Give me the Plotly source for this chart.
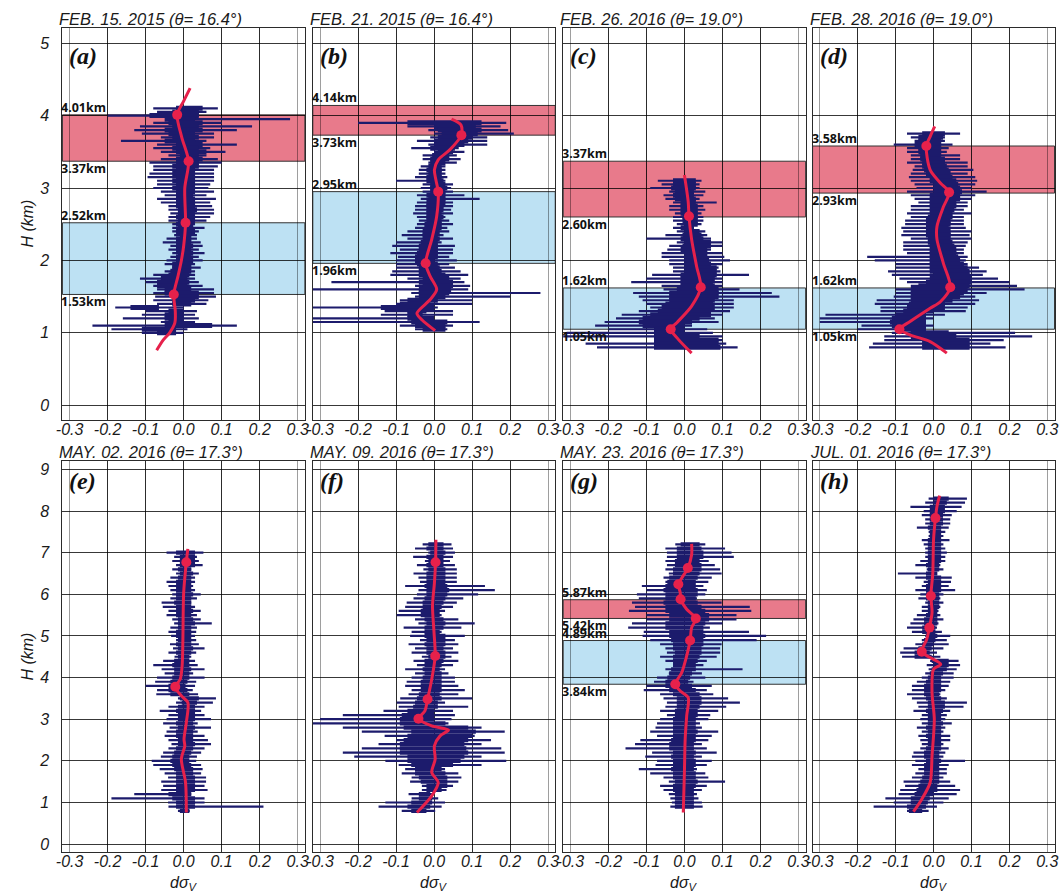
import plotly.graph_objects as go

W, H = 1062, 894
NAVY = "#1c1b6c"
RED = "#e6214b"
BAND_RED = "rgba(215,25,55,0.58)"
BAND_BLUE = "rgba(90,180,225,0.40)"

X_TICKS = [-0.3, -0.2, -0.1, 0.0, 0.1, 0.2, 0.3]
X_TICKTEXT = ["-0.3", "-0.2", "-0.1", "0.0", "0.1", "0.2", "0.3"]
Y_TICKS_TOP = [0, 1, 2, 3, 4, 5]
Y_TICKS_BOT = [0, 1, 2, 3, 4, 5, 6, 7, 8, 9]

TITLES = ["FEB. 15. 2015 (θ= 16.4°)", "FEB. 21. 2015 (θ= 16.4°)",
          "FEB. 26. 2016 (θ= 19.0°)", "FEB. 28. 2016 (θ= 19.0°)",
          "MAY. 02. 2016 (θ= 17.3°)", "MAY. 09. 2016 (θ= 17.3°)",
          "MAY. 23. 2016 (θ= 17.3°)", "JUL. 01. 2016 (θ= 17.3°)"]
LETTERS = ["(a)", "(b)", "(c)", "(d)", "(e)", "(f)", "(g)", "(h)"]

# ---------------- panel (a) ----------------
a_top, a_step = 4.10, 0.05
a_thin_lo = [-0.08,-0.07,-0.20,-0.03,-0.08,-0.115,-0.13,-0.11,-0.06,-0.165,
             -0.07,-0.08,-0.06,-0.04,-0.06,-0.09,-0.08,-0.08,-0.09,-0.095,
             -0.07,-0.07,-0.08,-0.06,-0.05,-0.07,-0.06,-0.04,-0.04,-0.035,
             -0.04,-0.04,-0.03,-0.03,-0.03,-0.025,-0.045,-0.055,-0.035,-0.04,
             -0.03,-0.035,-0.045,-0.05,-0.03,-0.05,-0.08,-0.115,-0.10,-0.08,
             -0.07,-0.08,-0.075,-0.08,-0.07,-0.18,-0.10,-0.11,-0.16,-0.06,
             -0.24,-0.19,-0.11]
a_thin_hi = [0.09,0.06,0.04,0.28,0.10,0.18,0.14,0.08,0.08,0.06,
             0.14,0.07,0.11,0.06,0.09,0.10,0.09,0.08,0.08,0.08,
             0.08,0.07,0.065,0.08,0.06,0.085,0.07,0.075,0.08,0.08,
             0.07,0.06,0.03,0.055,0.04,0.035,0.035,0.045,0.05,0.04,
             0.055,0.04,0.05,0.03,0.045,0.03,0.03,0.03,0.04,0.05,
             0.08,0.08,0.085,0.065,0.06,0.0,0.035,0.03,0.04,0.03,
             0.14,0.01,0.0]
a_core_lo = [-0.02,-0.03,-0.09,-0.05,-0.04,-0.03,-0.05,-0.04,-0.03,-0.05,
             -0.02,-0.03,-0.02,-0.01,-0.02,-0.02,-0.03,-0.02,-0.03,-0.02,
             -0.03,-0.02,-0.03,-0.02,-0.02,-0.02,-0.02,-0.02,-0.015,-0.015,
             -0.02,-0.015,-0.02,-0.015,-0.02,-0.01,-0.02,-0.02,-0.02,-0.02,
             -0.015,-0.02,-0.02,-0.03,-0.03,-0.035,-0.04,-0.06,-0.07,-0.07,
             -0.05,-0.05,-0.03,-0.03,-0.03,-0.14,-0.04,-0.05,-0.05,-0.04,
             -0.05,-0.11,-0.07]
a_core_hi = [0.05,0.04,0.04,0.03,0.05,0.04,0.05,0.03,0.04,0.03,
             0.05,0.04,0.06,0.04,0.05,0.04,0.04,0.03,0.03,0.03,
             0.03,0.03,0.03,0.03,0.025,0.03,0.03,0.03,0.035,0.03,
             0.03,0.03,0.025,0.025,0.03,0.02,0.02,0.02,0.025,0.02,
             0.025,0.02,0.025,0.02,0.02,0.02,0.015,0.01,0.015,0.01,
             0.02,0.04,0.04,0.03,0.02,-0.065,0.0,0.0,0.0,0.0,
             0.075,-0.02,-0.02]
a_line_h = [4.38, 4.2, 4.01, 3.7, 3.37, 3.0, 2.52, 2.2, 2.0, 1.78, 1.53, 1.3, 1.14, 1.0, 0.9, 0.76]
a_line_x = [0.017, 0.0, -0.017, -0.005, 0.013, 0.003, 0.005, 0.0, -0.006, -0.015, -0.026, -0.022, -0.023, -0.037, -0.054, -0.071]
a_dot_h = [4.01, 3.37, 2.52, 1.53]
a_dot_x = [-0.017, 0.013, 0.005, -0.026]
a_red_band = [3.37, 4.01]
a_blue_band = [1.53, 2.52]

# ---------------- panel (b) ----------------
b_top, b_step = 3.90, 0.05
b_thin_lo = [-0.20,-0.07,-0.015,0.0,-0.01,-0.045,-0.015,-0.06,0.0,-0.03,
             -0.03,-0.015,-0.035,-0.04,-0.04,-0.05,-0.10,-0.03,-0.035,-0.03,
             -0.045,-0.035,-0.045,-0.05,-0.05,-0.055,-0.045,-0.04,-0.045,-0.05,
             -0.07,-0.085,-0.07,-0.10,-0.11,-0.09,-0.115,-0.095,-0.10,-0.10,
             -0.10,-0.11,-0.115,-0.07,-0.27,-0.05,-0.32,-0.06,-0.05,-0.09,
             -0.10,-0.32,-0.13,-0.14,-0.32,-0.32,-0.09,-0.05]
b_thin_hi = [0.19,0.175,0.195,0.21,0.14,0.14,0.14,0.065,0.08,0.06,
             0.07,0.06,0.03,0.03,0.03,0.035,0.03,0.05,0.045,0.05,
             0.08,0.12,0.05,0.05,0.045,0.05,0.03,0.04,0.05,0.035,
             0.04,0.025,0.05,0.02,0.055,0.05,0.05,0.04,0.06,0.04,
             0.055,0.07,0.09,0.07,0.08,0.095,0.09,0.28,0.20,0.10,
             0.10,0.01,0.05,0.05,0.0,0.12,0.05,0.035]
b_core_lo = [-0.07,0.0,0.01,0.02,0.01,0.0,0.0,-0.01,0.01,-0.005,
             -0.01,-0.01,-0.015,-0.02,-0.015,-0.02,-0.02,-0.01,-0.01,-0.01,
             -0.02,-0.015,-0.02,-0.02,-0.02,-0.02,-0.02,-0.02,-0.025,-0.025,
             -0.03,-0.03,-0.03,-0.035,-0.04,-0.04,-0.045,-0.05,-0.05,-0.045,
             -0.04,-0.04,-0.04,-0.03,-0.04,-0.03,-0.04,-0.04,-0.04,-0.07,
             -0.09,-0.14,-0.07,-0.07,-0.07,-0.06,-0.05,-0.03]
b_core_hi = [0.125,0.11,0.125,0.115,0.10,0.09,0.08,0.055,0.05,0.04,
             0.04,0.03,0.02,0.02,0.02,0.02,0.025,0.03,0.035,0.03,
             0.03,0.03,0.03,0.025,0.025,0.02,0.025,0.02,0.02,0.02,
             0.015,0.01,0.015,0.01,0.01,0.01,0.01,0.01,0.0,0.01,
             0.015,0.02,0.03,0.04,0.05,0.05,0.045,0.04,0.03,0.01,
             -0.01,0.0,-0.02,-0.03,0.0,0.035,0.03,0.03]
b_line_h = [3.95, 3.87, 3.73, 3.53, 3.39, 3.25, 3.11, 2.95, 2.61, 2.29, 1.96, 1.78, 1.60, 1.46, 1.27, 1.18, 1.03]
b_line_x = [0.046, 0.071, 0.072, 0.042, 0.011, 0.001, 0.005, 0.011, 0.007, -0.006, -0.022, -0.01, 0.007, -0.01, -0.045, -0.032, 0.003]
b_dot_h = [3.73, 2.95, 1.96]
b_dot_x = [0.072, 0.011, -0.022]
b_red_band = [3.73, 4.14]
b_blue_band = [1.96, 2.95]

# ---------------- panel (c) ----------------
c_top, c_step = 3.10, 0.05
c_thin_lo = [-0.07,-0.06,-0.09,-0.04,-0.055,-0.05,-0.03,-0.04,-0.04,-0.025,
             -0.03,-0.03,-0.02,-0.03,-0.02,-0.05,-0.10,-0.02,-0.04,-0.045,
             -0.06,-0.06,-0.04,-0.04,-0.03,-0.03,-0.085,-0.10,-0.14,-0.06,
             -0.055,-0.135,-0.12,-0.11,-0.10,-0.09,-0.12,-0.165,-0.18,-0.21,
             -0.235,-0.20,-0.31,-0.32,-0.08,-0.26,-0.23]
c_thin_hi = [0.045,0.04,0.04,0.055,0.05,0.04,0.085,0.05,0.055,0.045,
             0.05,0.05,0.045,0.025,0.055,0.06,0.07,0.10,0.10,0.07,
             0.10,0.105,0.12,0.10,0.09,0.095,0.17,0.10,0.10,0.10,
             0.145,0.23,0.25,0.13,0.13,0.13,0.12,0.10,0.08,0.09,
             0.02,0.06,0.075,0.10,0.10,0.11,0.14]
c_core_lo = [-0.03,-0.03,-0.035,-0.025,-0.03,-0.025,-0.01,-0.01,-0.01,-0.01,
             -0.005,-0.005,0.0,-0.01,0.0,-0.005,-0.01,0.0,-0.005,-0.01,
             0.0,0.0,0.0,0.0,0.0,0.0,-0.01,-0.01,-0.01,-0.01,
             -0.02,-0.04,-0.04,-0.04,-0.05,-0.06,-0.07,-0.09,-0.11,-0.12,
             -0.11,-0.08,-0.08,-0.08,-0.08,-0.08,-0.08]
c_core_hi = [0.03,0.03,0.03,0.025,0.025,0.03,0.03,0.035,0.035,0.035,
             0.035,0.035,0.035,0.025,0.04,0.045,0.05,0.07,0.07,0.06,
             0.06,0.06,0.065,0.07,0.085,0.085,0.085,0.08,0.075,0.08,
             0.09,0.09,0.09,0.08,0.075,0.08,0.07,0.07,0.04,0.02,
             0.0,0.0,0.0,0.04,0.09,0.09,0.095]
c_line_h = [3.18, 2.81, 2.61, 2.29, 1.92, 1.63, 1.37, 1.14, 1.05, 0.91, 0.72]
c_line_x = [0.0, 0.01, 0.012, 0.019, 0.032, 0.043, 0.019, -0.02, -0.036, -0.016, 0.019]
c_dot_h = [2.61, 1.63, 1.05]
c_dot_x = [0.012, 0.043, -0.036]
c_red_band = [2.60, 3.37]
c_blue_band = [1.05, 1.62]

# ---------------- panel (d) ----------------
d_top, d_step = 3.75, 0.05
d_thin_lo = [-0.07,-0.06,-0.05,-0.105,-0.07,-0.07,-0.06,-0.06,-0.07,-0.05,
             -0.055,-0.06,-0.065,-0.06,-0.05,-0.045,-0.07,-0.06,-0.05,-0.04,
             -0.06,-0.06,-0.07,-0.06,-0.075,-0.075,-0.085,-0.08,-0.085,-0.06,
             -0.08,-0.08,-0.08,-0.07,-0.175,-0.155,-0.10,-0.10,-0.12,-0.11,
             -0.09,-0.07,-0.06,-0.10,-0.10,-0.105,-0.15,-0.155,-0.14,-0.14,
             -0.285,-0.30,-0.30,-0.19,-0.20,-0.11,-0.13,-0.13,-0.16,-0.17]
d_thin_hi = [0.07,0.03,0.03,0.05,0.04,0.035,0.07,0.07,0.09,0.09,
             0.105,0.09,0.11,0.115,0.11,0.10,0.14,0.11,0.10,0.09,
             0.09,0.08,0.10,0.08,0.08,0.08,0.085,0.10,0.095,0.10,
             0.09,0.085,0.08,0.08,0.09,0.085,0.09,0.12,0.14,0.13,
             0.17,0.20,0.22,0.24,0.14,0.11,0.12,0.11,0.09,0.085,
             0.03,0.0,-0.02,0.0,-0.02,0.215,0.26,0.185,0.15,0.19]
d_core_lo = [-0.03,-0.04,-0.04,-0.05,-0.04,-0.04,-0.035,-0.035,-0.03,-0.03,
             -0.025,-0.02,-0.01,-0.01,0.0,0.0,0.0,-0.01,-0.01,-0.01,
             -0.01,-0.01,-0.01,-0.015,-0.02,-0.02,-0.02,-0.02,-0.02,-0.015,
             -0.015,-0.01,-0.01,-0.01,-0.01,-0.01,-0.01,-0.01,-0.01,0.0,
             -0.01,-0.02,-0.04,-0.06,-0.06,-0.06,-0.06,-0.065,-0.07,-0.08,
             -0.10,-0.11,-0.115,-0.11,-0.10,-0.06,-0.06,-0.03,-0.03,-0.03]
d_core_hi = [0.03,0.025,0.02,0.02,0.02,0.02,0.02,0.03,0.03,0.035,
             0.04,0.045,0.05,0.06,0.065,0.07,0.075,0.07,0.07,0.06,
             0.06,0.055,0.05,0.05,0.045,0.045,0.04,0.045,0.045,0.045,
             0.05,0.055,0.06,0.06,0.065,0.07,0.08,0.09,0.095,0.095,
             0.10,0.10,0.095,0.09,0.08,0.07,0.05,0.03,0.03,0.0,
             -0.02,-0.02,-0.02,-0.02,-0.02,0.04,0.06,0.095,0.095,0.095]
d_line_h = [3.85, 3.71, 3.58, 3.25, 3.07, 2.94, 2.74, 2.47, 2.29, 1.96, 1.63, 1.43, 1.34, 1.16, 1.05, 0.97, 0.88, 0.72]
d_line_x = [0.003, -0.009, -0.019, -0.009, 0.018, 0.041, 0.026, 0.009, 0.009, 0.026, 0.044, 0.018, -0.009, -0.061, -0.09, -0.061, -0.009, 0.035]
d_dot_h = [3.58, 2.94, 1.63, 1.05]
d_dot_x = [-0.019, 0.041, 0.044, -0.09]
d_red_band = [2.93, 3.58]
d_blue_band = [1.05, 1.62]

# ---------------- panel (e) ----------------
e_top, e_step = 7.0, 0.1
e_thin_lo = [-0.045,-0.025,-0.03,-0.02,-0.03,-0.02,-0.035,-0.045,-0.04,-0.035,
             -0.03,-0.035,-0.058,-0.055,-0.04,-0.045,-0.03,-0.025,-0.035,-0.04,
             -0.033,-0.02,-0.036,-0.028,-0.04,-0.024,-0.054,-0.08,-0.058,-0.05,
             -0.07,-0.075,-0.10,-0.07,-0.072,-0.015,-0.02,-0.04,-0.063,-0.04,
             -0.045,-0.054,-0.037,-0.045,-0.05,-0.04,-0.032,-0.04,-0.054,-0.06,
             -0.084,-0.08,-0.063,-0.05,-0.041,-0.059,-0.054,-0.059,-0.13,-0.19,
             -0.041,-0.04,-0.015]
e_thin_hi = [0.052,0.035,0.04,0.05,0.02,0.04,0.03,0.03,0.025,0.03,
             0.045,0.035,0.02,0.03,0.045,0.035,0.045,0.074,0.035,0.033,
             0.03,0.033,0.04,0.055,0.033,0.02,0.03,0.037,0.055,0.025,
             0.055,0.033,0.03,0.024,0.038,0.085,0.077,0.055,0.046,0.055,
             0.072,0.037,0.072,0.037,0.055,0.064,0.072,0.055,0.046,0.035,
             0.033,0.046,0.05,0.046,0.059,0.059,0.055,0.063,0.02,0.055,
             0.055,0.21,0.016]
e_core_lo = [-0.02,-0.01,-0.01,-0.01,-0.015,-0.01,-0.015,-0.02,-0.02,-0.02,
             -0.02,-0.02,-0.025,-0.02,-0.02,-0.02,-0.015,-0.015,-0.015,-0.02,
             -0.02,-0.015,-0.02,-0.015,-0.02,-0.015,-0.025,-0.03,-0.025,-0.025,
             -0.03,-0.035,-0.04,-0.04,-0.035,-0.01,-0.005,-0.015,-0.02,-0.015,
             -0.015,-0.02,-0.015,-0.02,-0.02,-0.015,-0.015,-0.02,-0.025,-0.03,
             -0.035,-0.03,-0.025,-0.02,-0.02,-0.02,-0.02,-0.02,-0.04,-0.03,
             -0.02,-0.02,-0.01]
e_core_hi = [0.03,0.03,0.03,0.03,0.02,0.025,0.02,0.02,0.02,0.02,
             0.025,0.02,0.02,0.02,0.025,0.02,0.025,0.03,0.02,0.02,
             0.02,0.02,0.02,0.025,0.02,0.015,0.015,0.015,0.02,0.015,
             0.015,0.01,0.005,0.01,0.015,0.04,0.035,0.03,0.03,0.03,
             0.03,0.025,0.03,0.025,0.025,0.025,0.03,0.025,0.02,0.015,
             0.015,0.02,0.025,0.025,0.03,0.03,0.03,0.03,0.02,0.03,
             0.03,0.03,0.015]
e_line_h = [7.09, 6.77, 6.03, 4.92, 4.28, 3.96, 3.78, 3.56, 3.40, 2.92, 2.52, 2.36, 2.04, 1.48, 0.76]
e_line_x = [0.011, 0.007, 0.0, -0.002, -0.004, -0.009, -0.022, -0.006, 0.011, 0.007, 0.001, 0.003, -0.006, 0.005, 0.007]
e_dot_h = [6.77, 3.78]
e_dot_x = [0.007, -0.022]

# ---------------- panel (f) ----------------
f_top, f_step = 7.2, 0.1
f_thin_lo = [-0.03,-0.05,-0.015,-0.055,-0.024,-0.045,-0.028,-0.054,-0.041,-0.037,
             -0.076,-0.041,-0.045,-0.054,-0.072,-0.076,-0.093,-0.098,-0.05,-0.041,
             -0.08,-0.059,-0.063,-0.037,-0.067,-0.05,-0.059,-0.032,-0.054,-0.045,
             -0.076,-0.05,-0.059,-0.072,-0.076,-0.059,-0.067,-0.089,-0.098,-0.093,
             -0.133,-0.24,-0.30,-0.32,-0.24,-0.19,-0.13,-0.10,-0.146,-0.19,
             -0.24,-0.21,-0.128,-0.093,-0.076,-0.085,-0.059,-0.063,-0.032,-0.032,
             -0.067,-0.059,-0.128,-0.146,-0.085]
f_thin_hi = [0.046,0.05,0.055,0.05,0.042,0.055,0.06,0.06,0.06,0.06,
             0.134,0.16,0.116,0.077,0.06,0.05,0.029,0.02,0.064,0.107,
             0.072,0.02,0.081,0.055,0.064,0.05,0.064,0.046,0.064,0.05,
             0.029,0.038,0.055,0.055,0.064,0.081,0.064,0.10,0.029,0.09,
             0.05,0.055,0.046,0.038,0.125,0.186,0.107,0.15,0.125,0.177,
             0.186,0.125,0.19,0.125,0.029,0.064,0.072,0.064,0.05,0.033,
             0.0,0.011,0.029,0.02,0.003]
f_core_lo = [-0.015,-0.02,-0.01,-0.02,-0.015,-0.02,-0.015,-0.02,-0.02,-0.02,
             -0.025,-0.02,-0.02,-0.025,-0.03,-0.03,-0.035,-0.035,-0.025,-0.02,
             -0.025,-0.025,-0.025,-0.02,-0.025,-0.02,-0.02,-0.015,-0.025,-0.025,
             -0.03,-0.025,-0.03,-0.035,-0.035,-0.035,-0.04,-0.045,-0.05,-0.055,
             -0.07,-0.085,-0.09,-0.09,-0.08,-0.06,-0.07,-0.08,-0.09,-0.09,
             -0.09,-0.07,-0.07,-0.06,-0.05,-0.05,-0.04,-0.035,-0.02,-0.02,
             -0.04,-0.04,-0.06,-0.07,-0.06]
f_core_hi = [0.025,0.025,0.03,0.025,0.025,0.025,0.03,0.03,0.03,0.03,
             0.035,0.04,0.035,0.03,0.025,0.02,0.015,0.015,0.025,0.03,
             0.025,0.015,0.03,0.03,0.03,0.025,0.03,0.03,0.025,0.02,
             0.015,0.02,0.02,0.02,0.02,0.02,0.015,0.02,0.01,0.01,
             0.0,0.0,0.0,0.03,0.09,0.11,0.10,0.09,0.08,0.085,
             0.09,0.08,0.07,0.05,0.02,0.03,0.035,0.035,0.035,0.02,
             -0.01,-0.005,-0.005,-0.01,-0.02]
f_line_h = [7.31, 6.77, 6.27, 5.72, 5.08, 4.52, 3.96, 3.48, 3.2, 3.01, 2.84, 2.74, 2.6, 2.36, 2.04, 1.72, 1.48, 1.16, 0.76]
f_line_x = [0.005, 0.004, 0.001, -0.004, 0.0, 0.003, -0.006, -0.017, -0.024, -0.041, -0.006, 0.038, 0.016, 0.001, 0.003, -0.006, 0.011, -0.006, -0.045]
f_dot_h = [6.77, 4.52, 3.48, 3.01]
f_dot_x = [0.004, 0.003, -0.017, -0.041]

# ---------------- panel (g) ----------------
g_top, g_step = 7.2, 0.1
g_thin_lo = [-0.024,-0.05,-0.046,-0.046,-0.05,-0.046,-0.05,-0.041,-0.055,-0.05,
             -0.112,-0.10,-0.125,-0.12,-0.138,-0.13,-0.146,-0.10,-0.10,-0.138,
             -0.148,-0.107,-0.11,-0.09,-0.064,-0.05,-0.046,-0.064,-0.05,-0.024,
             -0.05,-0.041,-0.072,-0.08,-0.10,-0.107,-0.064,-0.055,-0.046,-0.05,
             -0.064,-0.046,-0.064,-0.072,-0.076,-0.09,-0.072,-0.116,-0.13,-0.155,
             -0.085,-0.103,-0.072,-0.076,-0.12,-0.09,-0.055,-0.041,-0.064,-0.055,
             -0.041,-0.037,-0.033,-0.037]
g_thin_hi = [0.055,0.107,0.124,0.13,0.064,0.08,0.094,0.098,0.072,0.063,
             0.05,0.059,0.055,0.033,0.098,0.172,0.176,0.137,0.137,0.10,
             0.067,0.17,0.215,0.19,0.098,0.094,0.094,0.085,0.059,0.05,
             0.153,0.046,0.055,0.024,0.072,0.059,0.076,0.115,0.146,0.11,
             0.089,0.068,0.063,0.041,0.046,0.089,0.072,0.063,0.046,0.059,
             0.085,0.046,0.072,0.059,0.033,0.055,0.063,0.107,0.059,0.046,
             0.033,0.037,0.046,0.048]
g_core_lo = [-0.01,-0.02,-0.02,-0.02,-0.025,-0.025,-0.03,-0.03,-0.04,-0.045,
             -0.05,-0.055,-0.05,-0.05,-0.055,-0.05,-0.05,-0.04,-0.04,-0.05,
             -0.05,-0.04,-0.04,-0.035,-0.03,-0.03,-0.025,-0.03,-0.03,-0.03,
             -0.035,-0.04,-0.045,-0.05,-0.05,-0.04,-0.03,-0.02,-0.02,-0.02,
             -0.025,-0.025,-0.03,-0.03,-0.03,-0.03,-0.03,-0.035,-0.04,-0.04,
             -0.03,-0.035,-0.03,-0.03,-0.035,-0.03,-0.03,-0.025,-0.03,-0.03,
             -0.025,-0.025,-0.025,-0.025]
g_core_hi = [0.04,0.045,0.05,0.05,0.04,0.045,0.045,0.04,0.035,0.03,
             0.03,0.035,0.035,0.03,0.035,0.045,0.055,0.065,0.065,0.055,
             0.05,0.05,0.055,0.05,0.05,0.045,0.045,0.04,0.035,0.03,
             0.03,0.02,0.015,0.01,0.02,0.03,0.04,0.045,0.045,0.04,
             0.035,0.035,0.03,0.03,0.03,0.035,0.03,0.03,0.025,0.025,
             0.03,0.025,0.03,0.03,0.025,0.03,0.03,0.035,0.03,0.025,
             0.025,0.025,0.025,0.025]
g_line_h = [7.21, 6.95, 6.63, 6.39, 6.24, 6.04, 5.88, 5.64, 5.42, 5.2, 4.89, 4.52, 4.12, 3.84, 3.68, 3.52, 3.08, 2.52, 1.72, 0.76]
g_line_x = [0.019, 0.019, 0.009, -0.007, -0.016, -0.011, -0.01, 0.006, 0.03, 0.019, 0.015, 0.006, -0.007, -0.024, -0.011, 0.01, 0.006, 0.002, 0.0, -0.003]
g_dot_h = [6.63, 6.24, 5.88, 5.42, 4.89, 3.84]
g_dot_x = [0.009, -0.016, -0.01, 0.03, 0.015, -0.024]
g_red_band = [5.42, 5.87]
g_blue_band = [3.84, 4.89]

# ---------------- panel (h) ----------------
h_top, h_step = 8.3, 0.1
h_thin_lo = [-0.013,-0.022,-0.061,-0.026,-0.031,-0.022,-0.022,-0.044,-0.013,-0.013,
             -0.031,-0.026,-0.022,-0.022,-0.022,-0.035,-0.048,-0.018,-0.094,-0.048,
             -0.026,-0.031,-0.048,-0.035,-0.04,-0.022,-0.031,-0.031,-0.044,-0.053,
             -0.061,-0.07,-0.057,-0.022,-0.031,-0.048,-0.079,-0.088,-0.083,-0.009,
             -0.018,-0.013,-0.022,-0.031,-0.044,-0.057,-0.057,-0.07,-0.057,-0.044,
             -0.04,-0.053,-0.031,-0.035,-0.031,-0.044,-0.031,-0.04,-0.035,-0.031,
             -0.035,-0.053,-0.057,-0.048,-0.057,-0.04,-0.048,-0.057,-0.079,-0.075,
             -0.088,-0.092,-0.127,-0.105,-0.158,-0.07]
h_thin_hi = [0.088,0.083,0.074,0.061,0.048,0.044,0.044,0.04,0.031,0.026,
             0.042,0.026,0.031,0.035,0.031,0.031,0.018,0.026,0.009,0.048,
             0.046,0.04,0.057,0.026,0.018,0.026,0.018,0.013,0.018,0.026,
             0.013,0.009,0.022,0.044,0.035,0.04,0.026,0.009,0.018,0.066,
             0.07,0.061,0.053,0.053,0.044,0.04,0.031,0.018,0.035,0.088,
             0.079,0.044,0.035,0.031,0.048,0.031,0.026,0.044,0.044,0.026,
             0.04,0.031,0.026,0.083,0.04,0.035,0.035,0.026,0.044,0.057,
             0.07,0.061,0.04,0.026,0.009,-0.013]
h_core_lo = [0.0,0.0,-0.01,-0.01,-0.01,-0.01,-0.01,-0.015,-0.01,-0.01,
             -0.015,-0.015,-0.015,-0.015,-0.015,-0.015,-0.02,-0.015,-0.02,-0.02,
             -0.015,-0.02,-0.02,-0.02,-0.02,-0.015,-0.015,-0.015,-0.02,-0.025,
             -0.025,-0.03,-0.03,-0.02,-0.025,-0.03,-0.04,-0.05,-0.05,-0.005,
             0.0,-0.005,-0.01,-0.015,-0.02,-0.025,-0.025,-0.025,-0.02,-0.015,
             -0.015,-0.02,-0.015,-0.015,-0.015,-0.02,-0.015,-0.02,-0.015,-0.015,
             -0.02,-0.025,-0.025,-0.02,-0.025,-0.025,-0.025,-0.03,-0.035,-0.04,
             -0.045,-0.05,-0.06,-0.06,-0.07,-0.065]
h_core_hi = [0.04,0.035,0.03,0.03,0.025,0.025,0.025,0.02,0.02,0.02,
             0.02,0.02,0.02,0.02,0.02,0.02,0.015,0.015,0.01,0.02,
             0.02,0.02,0.02,0.015,0.015,0.015,0.015,0.01,0.01,0.01,
             0.01,0.005,0.005,0.01,0.005,0.0,-0.005,-0.01,-0.005,0.04,
             0.04,0.035,0.025,0.02,0.02,0.02,0.02,0.015,0.02,0.03,
             0.03,0.025,0.02,0.02,0.025,0.02,0.02,0.02,0.02,0.02,
             0.02,0.015,0.015,0.02,0.015,0.015,0.015,0.015,0.015,0.01,
             0.01,0.0,-0.01,-0.015,-0.02,-0.03]
h_line_h = [8.37, 8.11, 7.83, 7.31, 6.51, 5.96, 5.56, 5.2, 4.92, 4.62, 4.48, 4.32, 4.2, 3.64, 3.0, 2.12, 1.48, 1.08, 0.78]
h_line_x = [0.016, 0.009, 0.005, 0.0, -0.002, -0.007, -0.004, -0.011, -0.018, -0.031, -0.009, 0.019, 0.0, -0.004, 0.002, -0.004, -0.009, -0.031, -0.053]
h_dot_h = [7.83, 5.96, 5.2, 4.62]
h_dot_x = [0.005, -0.007, -0.011, -0.031]

PANELS = [
    (a_top, a_step, a_thin_lo, a_thin_hi, a_core_lo, a_core_hi, a_line_h, a_line_x, a_dot_h, a_dot_x, a_red_band, a_blue_band),
    (b_top, b_step, b_thin_lo, b_thin_hi, b_core_lo, b_core_hi, b_line_h, b_line_x, b_dot_h, b_dot_x, b_red_band, b_blue_band),
    (c_top, c_step, c_thin_lo, c_thin_hi, c_core_lo, c_core_hi, c_line_h, c_line_x, c_dot_h, c_dot_x, c_red_band, c_blue_band),
    (d_top, d_step, d_thin_lo, d_thin_hi, d_core_lo, d_core_hi, d_line_h, d_line_x, d_dot_h, d_dot_x, d_red_band, d_blue_band),
    (e_top, e_step, e_thin_lo, e_thin_hi, e_core_lo, e_core_hi, e_line_h, e_line_x, e_dot_h, e_dot_x, None, None),
    (f_top, f_step, f_thin_lo, f_thin_hi, f_core_lo, f_core_hi, f_line_h, f_line_x, f_dot_h, f_dot_x, None, None),
    (g_top, g_step, g_thin_lo, g_thin_hi, g_core_lo, g_core_hi, g_line_h, g_line_x, g_dot_h, g_dot_x, g_red_band, g_blue_band),
    (h_top, h_step, h_thin_lo, h_thin_hi, h_core_lo, h_core_hi, h_line_h, h_line_x, h_dot_h, h_dot_x, None, None),
]

# ---------------- layout geometry (pixels) ----------------
COL_LEFT = [56, 309, 562, 814]
COL_RIGHT = [301, 554, 807, 1058.5]
ROW_TOP = [28, 462]
ROW_BOT = [420, 853]
Y_RANGES = [[-0.197, 5.21], [-0.19, 9.19]]
X_RANGE = [-0.319, 0.319]

TXT = "#1a1a1a"
FONT_IT = dict(family="Liberation Sans, Arial, sans-serif", size=16, color=TXT, style="italic")
LABEL_FONT = dict(family="Open Sans, DejaVu Sans, sans-serif", size=12.5, color="#111111", weight="bold")


def px_x(v):
    return v / W


def px_y(v):
    return 1 - v / H


fig = go.Figure()
shapes = []
annotations = []
layout_axes = {}

for i, p in enumerate(PANELS):
    top, step, tlo, thi, clo, chi, lh, lx, dh, dx, rband, bband = p
    r, c = divmod(i, 4)
    n = i + 1
    xa = "x" if n == 1 else f"x{n}"
    ya = "y" if n == 1 else f"y{n}"
    depths = [round(top - k * step, 3) for k in range(len(tlo))]

    xs, ys = [], []
    for d, lo, hi in zip(depths, tlo, thi):
        xs += [lo, hi, None]
        ys += [d, d, None]
    fig.add_trace(go.Scatter(x=xs, y=ys, mode="lines", line=dict(color=NAVY, width=2.2),
                             xaxis=xa, yaxis=ya, hoverinfo="skip", showlegend=False))
    xs, ys = [], []
    for d, lo, hi in zip(depths, clo, chi):
        xs += [lo, hi, None]
        ys += [d, d, None]
    fig.add_trace(go.Scatter(x=xs, y=ys, mode="lines",
                             line=dict(color=NAVY, width=5 if r == 0 else 4.2),
                             xaxis=xa, yaxis=ya, hoverinfo="skip", showlegend=False))
    fig.add_trace(go.Scatter(x=lx, y=lh, mode="lines", line=dict(color=RED, width=3, shape="spline", smoothing=0.8),
                             xaxis=xa, yaxis=ya, hoverinfo="skip", showlegend=False))
    fig.add_trace(go.Scatter(x=dx, y=dh, mode="markers", marker=dict(color=RED, size=10),
                             xaxis=xa, yaxis=ya, hoverinfo="skip", showlegend=False))

    xdom = [px_x(COL_LEFT[c]), px_x(COL_RIGHT[c])]
    ydom = [px_y(ROW_BOT[r]), px_y(ROW_TOP[r])]
    layout_axes["xaxis" if n == 1 else f"xaxis{n}"] = dict(
        domain=xdom, anchor=ya, range=X_RANGE, tickmode="array", tickvals=X_TICKS, ticktext=X_TICKTEXT,
        showgrid=True, gridcolor="rgba(0,0,0,0.38)", gridwidth=1,
        minor=dict(tickmode="array", tickvals=[-0.2, -0.1, 0.0, 0.1, 0.2], showgrid=True,
                   gridcolor="rgba(0,0,0,0.72)", gridwidth=1, ticks=""),
        zeroline=False, showline=True, mirror=True, linecolor="#2b2b2b", linewidth=1,
        ticks="", ticklen=0, ticklabelstandoff=-5, tickfont=FONT_IT, fixedrange=True)
    layout_axes["yaxis" if n == 1 else f"yaxis{n}"] = dict(
        domain=ydom, anchor=xa, range=Y_RANGES[r], tickmode="array",
        tickvals=Y_TICKS_TOP if r == 0 else Y_TICKS_BOT,
        showticklabels=(c == 0), showgrid=True, gridcolor="rgba(0,0,0,0.78)", gridwidth=1,
        zeroline=False, showline=True, mirror=True, linecolor="#2b2b2b", linewidth=1,
        ticks="", ticklen=0, ticklabelstandoff=9, tickfont=FONT_IT, fixedrange=True)

    # bands + labels
    for band, col in ((rband, BAND_RED), (bband, BAND_BLUE)):
        if band is None:
            continue
        lo, hi = band
        shapes.append(dict(type="rect", xref=f"{xa} domain", yref=ya, x0=0, x1=1, y0=lo, y1=hi,
                           fillcolor=col, line=dict(color="#333333", width=1), layer="below"))
        annotations.append(dict(xref="paper", yref=ya, x=px_x(COL_LEFT[c] - 3), y=hi, xanchor="left",
                                yanchor="bottom", yshift=-3, showarrow=False, text=f"{hi:.2f}km",
                                font=LABEL_FONT))
        annotations.append(dict(xref="paper", yref=ya, x=px_x(COL_LEFT[c] - 3), y=lo, xanchor="left",
                                yanchor="top", yshift=3, showarrow=False, text=f"{lo:.2f}km",
                                font=LABEL_FONT))

    # title
    annotations.append(dict(xref="paper", yref="paper", x=px_x(COL_LEFT[c] - 5),
                            y=px_y(19.5 if r == 0 else 453), xanchor="left", yanchor="middle",
                            showarrow=False, text=TITLES[i],
                            font=dict(family="Liberation Sans, Arial, sans-serif", size=16.5,
                                      color=TXT, style="italic")))
    # panel letter
    annotations.append(dict(xref="paper", yref="paper", x=px_x(COL_LEFT[c] + 5),
                            y=px_y(56 if r == 0 else 482), xanchor="left", yanchor="middle",
                            showarrow=False, text=LETTERS[i],
                            font=dict(family="Liberation Serif, Times New Roman, serif", size=24,
                                      color="#111111", style="italic", weight="bold")))
    if r == 1:
        annotations.append(dict(xref="paper", yref="paper",
                                x=px_x((COL_LEFT[c] + COL_RIGHT[c]) / 2), y=px_y(884),
                                xanchor="center", yanchor="middle", showarrow=False,
                                text="dσ<sub>V</sub>", font=FONT_IT))

for r in range(2):
    annotations.append(dict(xref="paper", yref="paper", x=px_x(21), y=px_y((ROW_TOP[r] + ROW_BOT[r]) / 2),
                            xanchor="center", yanchor="middle", textangle=-90, showarrow=False,
                            text="H (km)", font=FONT_IT))

fig.update_layout(width=W, height=H, margin=dict(l=0, r=0, t=0, b=0), autosize=False,
                  paper_bgcolor="white", plot_bgcolor="white", showlegend=False,
                  shapes=shapes, annotations=annotations, **layout_axes)

fig.write_html("out.html", include_plotlyjs=True, full_html=True, config={"displayModeBar": False})
